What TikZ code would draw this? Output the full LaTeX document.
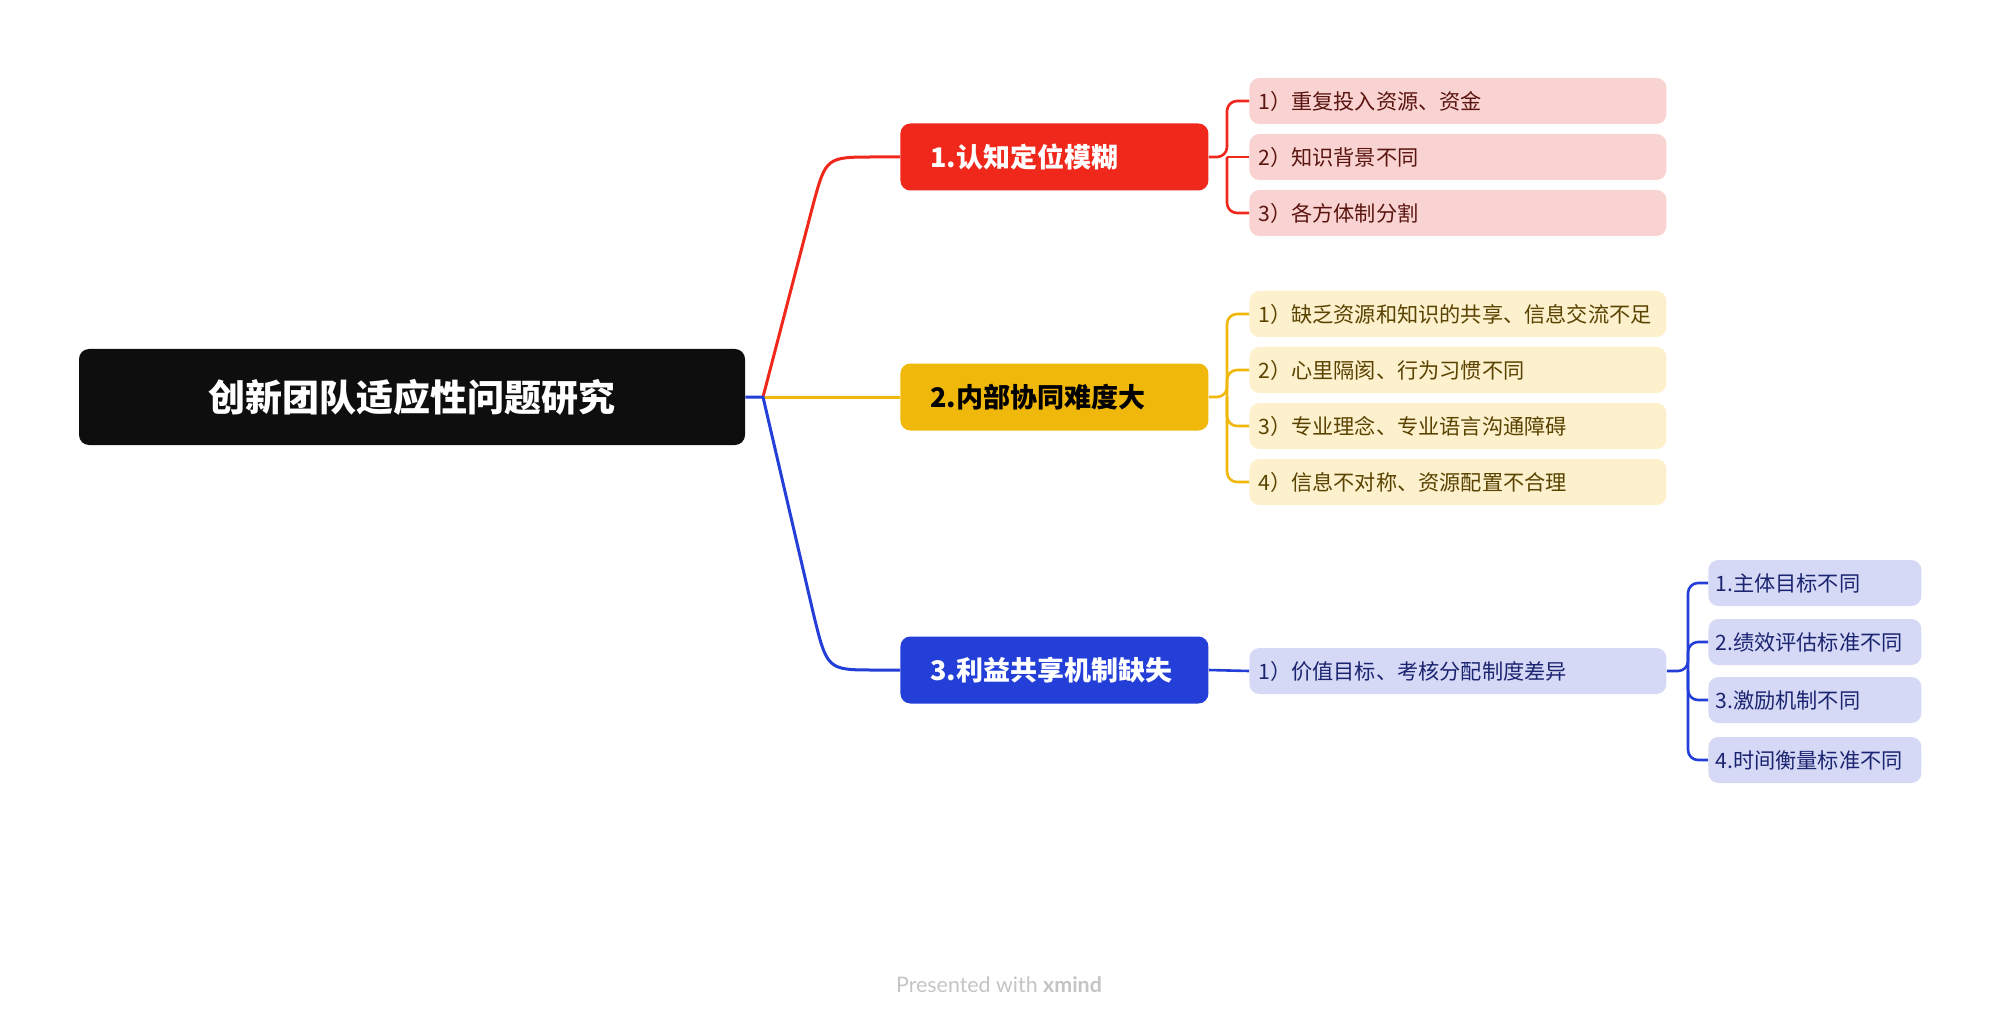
\documentclass[tikz,border=0pt]{standalone}
\usepackage{fontspec}
\newfontfamily\cjk{Noto Sans CJK SC}
\newfontfamily\footfont{Lato}
\definecolor{rootc}{HTML}{0E0E0E}
\definecolor{redc}{HTML}{F0281C}
\definecolor{yelc}{HTML}{F0B80A}
\definecolor{bluc}{HTML}{233FD8}
\definecolor{redl}{HTML}{F9D3D1}
\definecolor{yell}{HTML}{FCF0CD}
\definecolor{blul}{HTML}{D5D9F6}
\definecolor{redt}{HTML}{5A1510}
\definecolor{yelt}{HTML}{5A4300}
\definecolor{blut}{HTML}{1B2470}
\definecolor{footc}{HTML}{C4C4C4}
\begin{document}
\begin{tikzpicture}[x=0.5pt,y=-0.5pt,
  rootbox/.style={fill=rootc,rounded corners=5pt,text=white,font=\cjk\bfseries\fontsize{18.5}{22}\selectfont,minimum width=333pt,minimum height=48pt,inner sep=0pt},
  mainbox/.style={rounded corners=5pt,text=white,font=\cjk\bfseries\fontsize{13.5}{16}\selectfont,minimum height=33.5pt,inner xsep=0pt,inner ysep=0pt,text width=154pt,align=left,anchor=west},
  subbox/.style={rounded corners=5pt,font=\cjk\fontsize{10.6}{13}\selectfont,minimum height=23pt,inner xsep=4.5pt,inner ysep=0pt,text width=199.5pt,align=left,anchor=west},
  leafbox/.style={rounded corners=5pt,font=\cjk\fontsize{10.6}{13}\selectfont,minimum height=23pt,inner xsep=3.5pt,inner ysep=0pt,text width=99.5pt,align=left,anchor=west},
  br/.style={line width=1.5pt},
  sbr/.style={line width=1.3pt,rounded corners=5pt}]
\useasboundingbox (0,0) rectangle (2000,1026);
% root
\node[rootbox] (root) at (412,397) {创新团队适应性问题研究};
\coordinate (split) at (763,397);
% main branches
\node[mainbox,fill=redc] (b1) at (900,157) {\hspace*{15pt}1.认知定位模糊};
\node[mainbox,fill=yelc,text=black] (b2) at (900,397) {\hspace*{15pt}2.内部协同难度大};
\node[mainbox,fill=bluc] (b3) at (900,670) {\hspace*{15pt}3.利益共享机制缺失};
% connectors root to branches
\draw[br,redc] (split) -- (813,205) .. controls (826,157) .. (875,157) -- (b1.west);
\draw[br,yelc] (split) -- (b2.west);
\draw[br,bluc] (root.east) -- (split) -- (813,612) .. controls (827,670) .. (875,670) -- (b3.west);
% level 2 red
\node[subbox,fill=redl,text=redt] (r1) at (1249,101) {1）重复投入资源、资金};
\node[subbox,fill=redl,text=redt] (r2) at (1249,157) {2）知识背景不同};
\node[subbox,fill=redl,text=redt] (r3) at (1249,213) {3）各方体制分割};
\coordinate (rj) at (1227,157);
\draw[sbr,redc] (b1.east) -- (rj) |- (r1.west);
\draw[sbr,redc] (rj) -- (r2.west);
\draw[sbr,redc] (rj) |- (r3.west);
% level 2 yellow
\node[subbox,fill=yell,text=yelt] (y1) at (1249,314) {1）缺乏资源和知识的共享、信息交流不足};
\node[subbox,fill=yell,text=yelt] (y2) at (1249,370) {2）心里隔阂、行为习惯不同};
\node[subbox,fill=yell,text=yelt] (y3) at (1249,426) {3）专业理念、专业语言沟通障碍};
\node[subbox,fill=yell,text=yelt] (y4) at (1249,482) {4）信息不对称、资源配置不合理};
\coordinate (yj) at (1227,397);
\draw[sbr,yelc] (b2.east) -- (yj) |- (y1.west);
\draw[sbr,yelc] (yj) |- (y2.west);
\draw[sbr,yelc] (yj) |- (y3.west);
\draw[sbr,yelc] (yj) |- (y4.west);
% level 2 blue
\node[subbox,fill=blul,text=blut] (u1) at (1249,671) {1）价值目标、考核分配制度差异};
\draw[sbr,bluc] (b3.east) -- (u1.west);
% level 3
\node[leafbox,fill=blul,text=blut] (l1) at (1708,583) {1.主体目标不同};
\node[leafbox,fill=blul,text=blut] (l2) at (1708,642) {2.绩效评估标准不同};
\node[leafbox,fill=blul,text=blut] (l3) at (1708,700) {3.激励机制不同};
\node[leafbox,fill=blul,text=blut] (l4) at (1708,760) {4.时间衡量标准不同};
\coordinate (lj) at (1688,671);
\draw[sbr,bluc] (u1.east) -- (lj) |- (l1.west);
\draw[sbr,bluc] (lj) |- (l2.west);
\draw[sbr,bluc] (lj) |- (l3.west);
\draw[sbr,bluc] (lj) |- (l4.west);
% footer
\node[text=footc,font=\footfont\fontsize{10.7}{12}\selectfont] (foot) at (999,985) {Presented with \textbf{xmind}};
\end{tikzpicture}
\end{document}
